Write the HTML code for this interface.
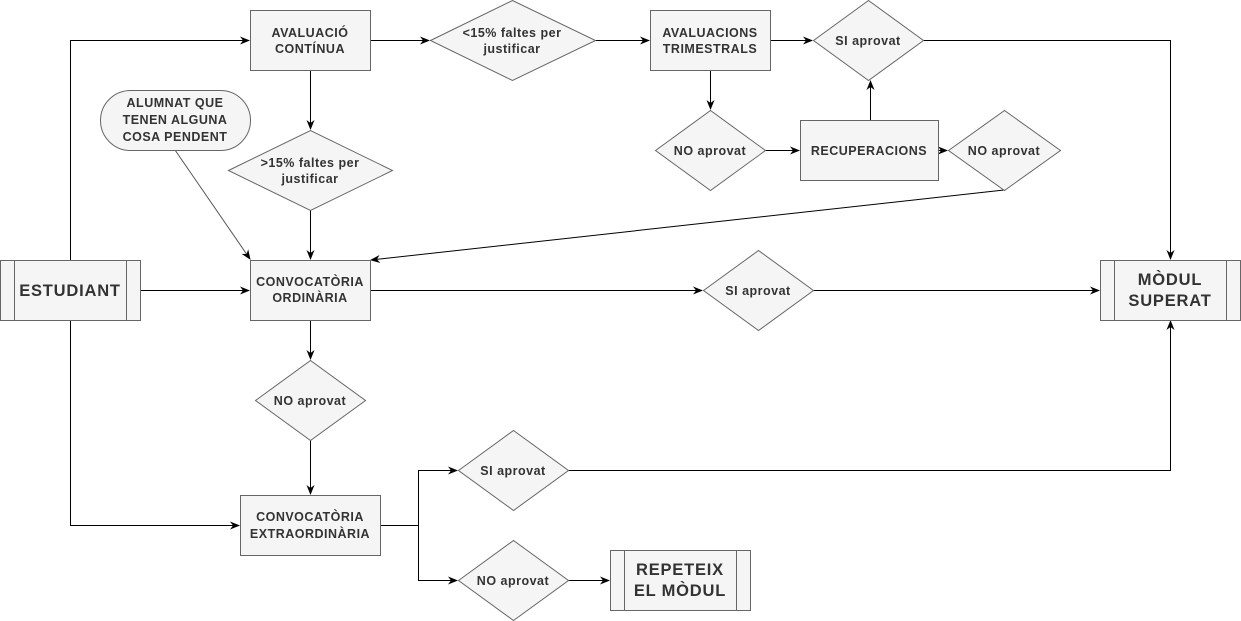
<!DOCTYPE html>
<html><head><meta charset="utf-8"><style>
html,body{margin:0;padding:0;background:#fff;}
svg{display:block;}
text{font-family:"Liberation Sans",Arial,sans-serif;font-weight:bold;fill:#333;text-anchor:middle;}
.s{font-size:12.5px;letter-spacing:0.5px;}
.b{font-size:16.5px;letter-spacing:0.8px;}
.sh{fill:#f5f5f5;stroke:#666;stroke-width:1;}
.l{fill:none;stroke:#000;stroke-width:1;}
</style></head><body>
<svg width="1241" height="621" viewBox="0 0 1241 621" xmlns="http://www.w3.org/2000/svg">
<defs><marker id="a" markerWidth="10" markerHeight="8" refX="9" refY="4" orient="auto" markerUnits="userSpaceOnUse"><path d="M0,0 L10,4 L0,8 L3,4 Z" fill="#000"/></marker></defs>
<g class="l" marker-end="url(#a)">
<path d="M70.5,260 V40.5 H249"/>
<path d="M370,40.5 H429"/>
<path d="M595,40.5 H649"/>
<path d="M770,40.5 H812"/>
<path d="M923,40.5 H1170.5 V259"/>
<path d="M710.5,70 V109"/>
<path d="M765,150.5 H799"/>
<path d="M870.5,120 V81"/>
<path d="M938,150.5 H947"/>
<path d="M1004,190 L371,260"/>
<path d="M310.5,70 V129"/>
<path d="M310.5,210 V259"/>
<path d="M175,150 L250,259" style="stroke:#555"/>
<path d="M140,290.5 H249"/>
<path d="M370,290.5 H702"/>
<path d="M813,290.5 H1099"/>
<path d="M310.5,320 V359"/>
<path d="M310.5,440 V494"/>
<path d="M70.5,320 V525.5 H239"/>
<path d="M380,525.5 H418.5 V470.5 H457"/>
<path d="M418.5,525.5 V580.5 H457"/>
<path d="M568,470.5 H1170.5 V321"/>
<path d="M568,580.5 H609"/>
</g>
<rect class="sh" x="0.5" y="260.5" width="140" height="60"/>
<path class="l" style="stroke:#666" d="M14.5,260.5 V320.5 M126.5,260.5 V320.5"/>
<text class="b" x="70" y="296">ESTUDIANT</text>

<rect class="sh" x="250.5" y="10.5" width="120" height="60"/>
<text class="s" x="310" y="37">AVALUACIÓ</text><text class="s" x="310" y="53">CONTÍNUA</text>

<polygon class="sh" points="430.5,40.5 512.5,0.5 595.5,40.5 512.5,80.5"/>
<text class="s" x="512" y="37">&lt;15% faltes per</text><text class="s" x="512" y="53">justificar</text>

<rect class="sh" x="650.5" y="10.5" width="120" height="60"/>
<text class="s" x="710" y="37">AVALUACIONS</text><text class="s" x="710" y="53">TRIMESTRALS</text>

<polygon class="sh" points="813.5,40.5 868.5,0.5 923.5,40.5 868.5,80.5"/>
<text class="s" x="868" y="45">SI aprovat</text>

<rect class="sh" x="100.5" y="90.5" width="150" height="60" rx="30" ry="30"/>
<text class="s" x="175" y="107">ALUMNAT QUE</text><text class="s" x="175" y="124">TENEN ALGUNA</text><text class="s" x="175" y="141">COSA PENDENT</text>

<polygon class="sh" points="228.5,170.5 310.5,130.5 392.5,170.5 310.5,210.5"/>
<text class="s" x="310" y="167">&gt;15% faltes per</text><text class="s" x="310" y="183">justificar</text>

<polygon class="sh" points="655.5,150.5 710.5,110.5 765.5,150.5 710.5,190.5"/>
<text class="s" x="710" y="155">NO aprovat</text>

<rect class="sh" x="800.5" y="120.5" width="138" height="60"/>
<text class="s" x="869" y="155">RECUPERACIONS</text>

<polygon class="sh" points="948.5,150.5 1004.5,110.5 1060.5,150.5 1004.5,190.5"/>
<text class="s" x="1004" y="155">NO aprovat</text>

<rect class="sh" x="250.5" y="260.5" width="120" height="60"/>
<text class="s" x="310" y="286">CONVOCATÒRIA</text><text class="s" x="310" y="302">ORDINÀRIA</text>

<polygon class="sh" points="703.5,290.5 758.5,250.5 813.5,290.5 758.5,330.5"/>
<text class="s" x="758" y="295">SI aprovat</text>

<rect class="sh" x="1100.5" y="260.5" width="140" height="60"/>
<path class="l" style="stroke:#666" d="M1114.5,260.5 V320.5 M1226.5,260.5 V320.5"/>
<text class="b" x="1170" y="285">MÒDUL</text><text class="b" x="1170" y="306">SUPERAT</text>

<polygon class="sh" points="255.5,400.5 310.5,360.5 365.5,400.5 310.5,440.5"/>
<text class="s" x="310" y="405">NO aprovat</text>

<rect class="sh" x="240.5" y="495.5" width="140" height="60"/>
<text class="s" x="310" y="521">CONVOCATÒRIA</text><text class="s" x="310" y="538">EXTRAORDINÀRIA</text>

<polygon class="sh" points="458.5,470.5 513.5,430.5 568.5,470.5 513.5,510.5"/>
<text class="s" x="513" y="475">SI aprovat</text>

<polygon class="sh" points="458.5,580.5 513.5,540.5 568.5,580.5 513.5,620.5"/>
<text class="s" x="513" y="585">NO aprovat</text>

<rect class="sh" x="610.5" y="550.5" width="140" height="60"/>
<path class="l" style="stroke:#666" d="M624.5,550.5 V610.5 M736.5,550.5 V610.5"/>
<text class="b" x="680" y="575">REPETEIX</text><text class="b" x="680" y="596">EL MÒDUL</text>
</svg>
</body></html>
